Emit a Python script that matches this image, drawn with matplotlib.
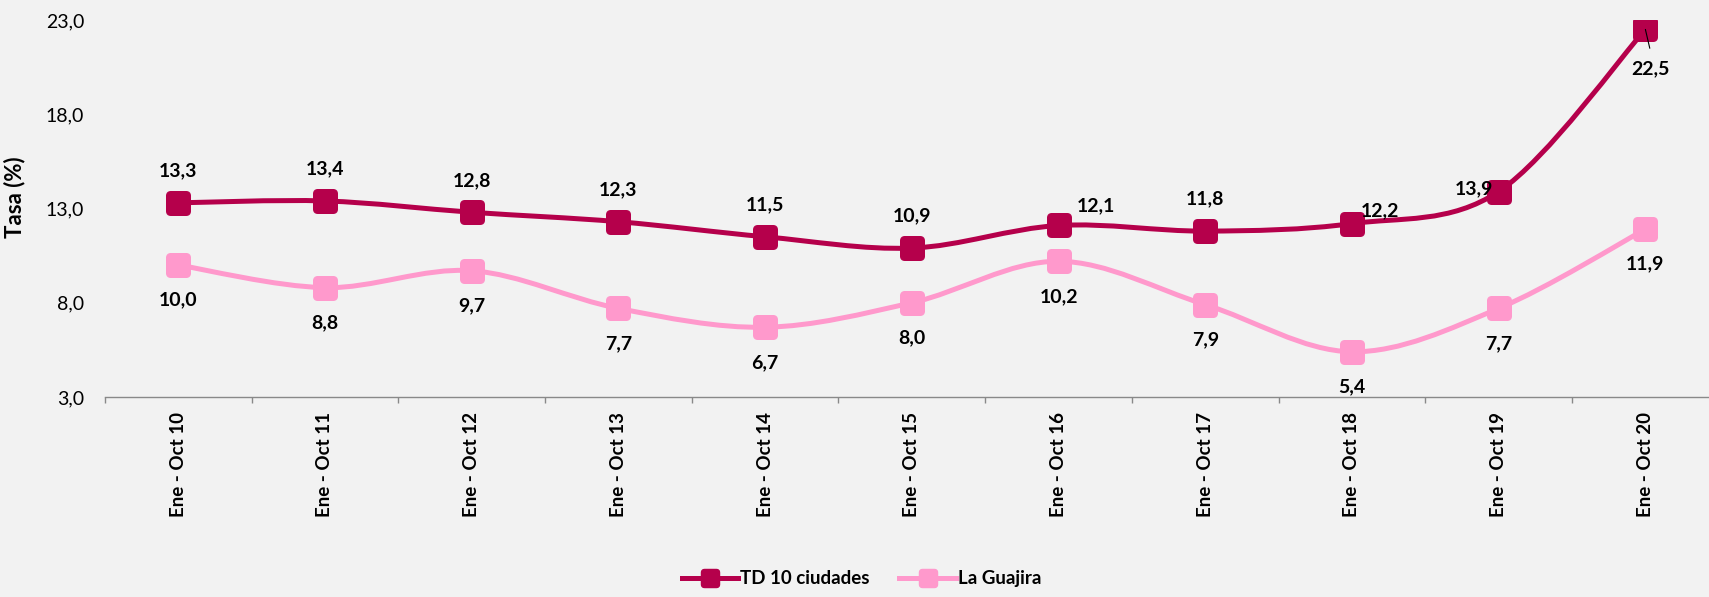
#!/usr/bin/env python3
"""Tasa de desempleo: TD 10 ciudades vs La Guajira (Ene - Oct)."""
import matplotlib

matplotlib.use("Agg")
import matplotlib.pyplot as plt
from matplotlib.lines import Line2D
from matplotlib.patches import PathPatch
from matplotlib.path import Path

plt.rcParams.update({"font.family": ["Lato", "DejaVu Sans"]})

periods = [f"Ene - Oct {y}" for y in range(10, 21)]
td_10_ciudades = [13.3, 13.4, 12.8, 12.3, 11.5, 10.9, 12.1, 11.8, 12.2, 13.9, 22.5]
la_guajira = [10.0, 8.8, 9.7, 7.7, 6.7, 8.0, 10.2, 7.9, 5.4, 7.7, 11.9]
yticks = [3.0, 8.0, 13.0, 18.0, 23.0]

# label offsets in pixels (dx, dy), excel-style placement
td_offsets = [(0, 32), (0, 32), (0, 32), (0, 32), (0, 32), (0, 32),
              (37, 20), (0, 32), (28, 13), (-25, 3), (5, -39)]
lg_offsets = [(0, -35)] * 11

DARK = "#B5004B"
LIGHT = "#FF99CC"
BG = "#F2F2F2"


def smooth_path(xs, ys):
    # catmull-rom as cubic bezier, roughly what excel's smoothed line does
    pts = list(zip(xs, ys))
    verts = [pts[0]]
    codes = [Path.MOVETO]
    n = len(pts)
    for i in range(n - 1):
        p0 = pts[i - 1] if i > 0 else pts[i]
        p1, p2 = pts[i], pts[i + 1]
        p3 = pts[i + 2] if i + 2 < n else pts[i + 1]
        c1 = (p1[0] + (p2[0] - p0[0]) / 6, p1[1] + (p2[1] - p0[1]) / 6)
        c2 = (p2[0] - (p3[0] - p1[0]) / 6, p2[1] - (p3[1] - p1[1]) / 6)
        verts += [c1, c2, p2]
        codes += [Path.CURVE4] * 3
    return Path(verts, codes)


def rounded_square(r=0.18):
    h = 0.5
    v = [(-h + r, -h), (h - r, -h), (h, -h), (h, -h + r), (h, h - r), (h, h),
         (h - r, h), (-h + r, h), (-h, h), (-h, h - r), (-h, -h + r), (-h, -h),
         (-h + r, -h)]
    c = [Path.MOVETO, Path.LINETO, Path.CURVE3, Path.CURVE3, Path.LINETO,
         Path.CURVE3, Path.CURVE3, Path.LINETO, Path.CURVE3, Path.CURVE3,
         Path.LINETO, Path.CURVE3, Path.CURVE3]
    return Path(v, c)


MARKER = rounded_square()

fig = plt.figure(figsize=(17.09, 5.97), dpi=100, facecolor=BG)
ax = fig.add_axes([0.0614, 0.335, 0.9443, 0.6315])
ax.set_facecolor(BG)

x = list(range(len(periods)))
for vals, color, z in [(la_guajira, LIGHT, 2), (td_10_ciudades, DARK, 3)]:
    ax.add_patch(PathPatch(smooth_path(x, vals), fill=False, edgecolor=color,
                           lw=3.6, capstyle="round", zorder=z))
    ax.plot(x, vals, ls="none", marker=MARKER, ms=17, color=color, mec=color, zorder=z + 2)

for vals, offs in [(td_10_ciudades, td_offsets), (la_guajira, lg_offsets)]:
    for xi, v, (dx, dy) in zip(x, vals, offs):
        ax.annotate(f"{v:.1f}".replace(".", ","), (xi, v), xytext=(dx * 0.72, dy * 0.72),
                    textcoords="offset points", ha="center", va="center",
                    fontsize=14, fontweight="bold", zorder=10)

# leader line for the last TD label
ax.annotate("", (x[-1], td_10_ciudades[-1]), xytext=(x[-1] + 0.03, td_10_ciudades[-1] - 1.0),
            arrowprops=dict(arrowstyle="-", color="black", lw=0.8, shrinkA=0, shrinkB=0),
            zorder=10)

ax.set_xlim(-0.5, len(periods) - 0.5)
ax.set_ylim(3, 23)
ax.set_yticks(yticks)
ax.set_yticklabels([f"{t:.1f}".replace(".", ",") for t in yticks], fontsize=14)
ax.tick_params(axis="y", length=0, pad=15)

ax.set_xticks(x)
ax.set_xticklabels(periods, rotation=90, fontsize=13.5, fontweight="bold", va="top")
ax.set_xticks([i - 0.5 for i in range(len(periods) + 1)], minor=True)
ax.tick_params(axis="x", which="major", length=0, pad=11)
ax.tick_params(axis="x", which="minor", length=4.5, color="#898989", width=1)

for side in ["left", "right", "top"]:
    ax.spines[side].set_visible(False)
ax.spines["bottom"].set_color("#898989")
ax.spines["bottom"].set_linewidth(1)

ax.set_ylabel("Tasa (%)", fontsize=16, fontweight="bold")
ax.yaxis.set_label_coords(-0.0496, 0.53)

handles = [
    Line2D([], [], color=DARK, lw=3.6, marker=MARKER, ms=13, label="TD 10 ciudades"),
    Line2D([], [], color=LIGHT, lw=3.6, marker=MARKER, ms=13, label="La Guajira"),
]
fig.legend(handles=handles, loc="lower center", bbox_to_anchor=(0.504, -0.012), ncol=2,
           frameon=False, prop={"size": 13.5, "weight": "bold"}, handlelength=3.0,
           handletextpad=0.1, columnspacing=1.6)

fig.savefig("out.png", dpi=100, facecolor=BG)
